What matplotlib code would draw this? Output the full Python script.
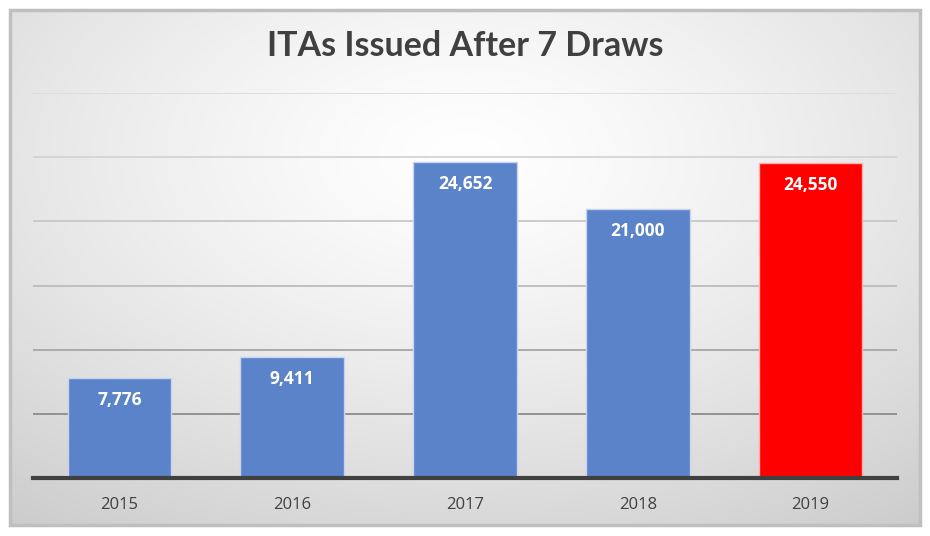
import matplotlib
matplotlib.use("Agg")
import matplotlib.pyplot as plt
import numpy as np
from matplotlib.patches import Rectangle

years = ["2015", "2016", "2017", "2018", "2019"]
values = [7776, 9411, 24652, 21000, 24550]
bar_colors = ["#5b83c9", "#5b83c9", "#5b83c9", "#5b83c9", "#ff0000"]
title = "ITAs Issued After 7 Draws"

W, H = 930, 536
fig = plt.figure(figsize=(W / 100, H / 100), dpi=100)
fig.patch.set_facecolor("white")

# background panel with radial gradient
bx0, by0, bx1, by1 = 10, 10, 920, 525
bg = fig.add_axes([bx0 / W, 1 - by1 / H, (bx1 - bx0) / W, (by1 - by0) / H])
ny, nx = 300, 500
yy, xx = np.mgrid[0:ny, 0:nx]
cx, cy = nx * 0.5, ny * 0.28
r = np.sqrt(((xx - cx) / nx) ** 2 + ((yy - cy) / ny) ** 2 * 0.9)
r = r / r.max()
lev = 1.0 - 0.20 * np.clip(r, 0, 1) ** 1.3
img = np.dstack([lev, lev, lev])
bg.imshow(img, aspect="auto", extent=[0, 1, 0, 1], origin="upper")
bg.set_xlim(0, 1)
bg.set_ylim(0, 1)
bg.axis("off")
bg.add_patch(Rectangle((0, 0), 1, 1, transform=bg.transAxes, fill=False,
                       edgecolor="#bfbfbf", linewidth=2.5, clip_on=False))

# main axes
x0, x1 = 33, 897
ybase, ytop = 478, 93
ax = fig.add_axes([x0 / W, 1 - ybase / H, (x1 - x0) / W, (ybase - ytop) / H])
ax.set_facecolor("none")
xpos = np.arange(len(years))
bars = ax.bar(xpos, values, width=0.6, color=bar_colors, edgecolor="#c8d4ee",
              linewidth=1.0, zorder=3)
bars[-1].set_edgecolor("#ffb0b0")
ax.set_xlim(-0.5, len(years) - 0.5)
ax.set_ylim(0, 30000)
ax.set_yticks(np.arange(0, 30001, 5000))
ax.yaxis.grid(True, zorder=0)
grid_colors = ["none", "#8c8c8c", "#a6a6a6", "#bcbcbc", "#c8c8c8", "#d4d4d4", "#dcdcdc"]
for gl, c in zip(ax.yaxis.get_gridlines(), grid_colors):
    gl.set_color(c)
    gl.set_linewidth(1.3)
ax.tick_params(axis="y", left=False, labelleft=False)
ax.tick_params(axis="x", bottom=False, pad=10, labelsize=12, labelcolor="#404040")
ax.set_xticks(xpos)
ax.set_xticklabels(years, family="Open Sans")
for s in ["left", "right", "top"]:
    ax.spines[s].set_visible(False)
ax.spines["bottom"].set_color("#404040")
ax.spines["bottom"].set_linewidth(3)
ax.spines["bottom"].set_zorder(4)

for xi, v in zip(xpos, values):
    ax.annotate(f"{v:,}", (xi, v), xytext=(0, -16), textcoords="offset points",
                ha="center", va="center", color="white", fontsize=12.5,
                fontweight="bold", family="Open Sans", zorder=5)

fig.text(0.5, 1 - 46 / H, title, ha="center", va="center", fontsize=24.5,
         fontweight="bold", color="#404040", family="Lato")

fig.savefig("out.png", dpi=100)
